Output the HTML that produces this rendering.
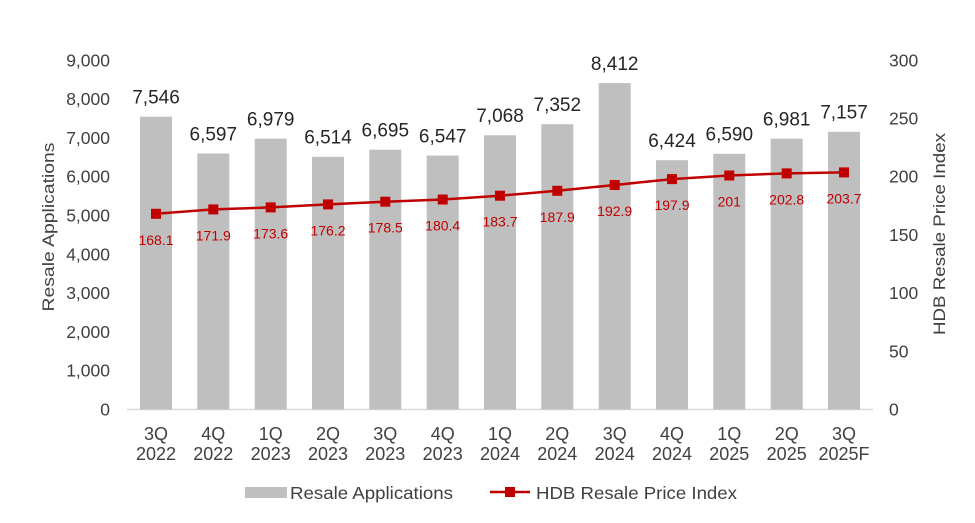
<!DOCTYPE html>
<html><head><meta charset="utf-8"><style>body{margin:0;background:#fff}svg{display:block;font-family:"Liberation Sans",Arial,sans-serif}</style></head><body>
<svg width="975" height="523" xmlns="http://www.w3.org/2000/svg">
<rect width="975" height="523" fill="#fff"/>
<g font-size="17.5" fill="#404040" text-anchor="end">
<text x="110" y="415.5">0</text><text x="110" y="376.7">1,000</text><text x="110" y="337.9">2,000</text><text x="110" y="299.1">3,000</text><text x="110" y="260.3">4,000</text><text x="110" y="221.5">5,000</text><text x="110" y="182.7">6,000</text><text x="110" y="143.9">7,000</text><text x="110" y="105.1">8,000</text><text x="110" y="66.3">9,000</text>
</g>
<g font-size="17.5" fill="#404040">
<text x="889" y="415.5">0</text><text x="889" y="357.3">50</text><text x="889" y="299.1">100</text><text x="889" y="240.9">150</text><text x="889" y="182.7">200</text><text x="889" y="124.5">250</text><text x="889" y="66.3">300</text>
</g>
<line x1="127" y1="409.5" x2="873" y2="409.5" stroke="#d9d9d9" stroke-width="1.5"/>
<g fill="#bfbfbf">
<rect x="140" y="116.7" width="32" height="292.8"/>
<rect x="197.3" y="153.5" width="32" height="256"/>
<rect x="254.7" y="138.7" width="32" height="270.8"/>
<rect x="312" y="156.8" width="32" height="252.7"/>
<rect x="369.3" y="149.7" width="32" height="259.8"/>
<rect x="426.7" y="155.5" width="32" height="254"/>
<rect x="484" y="135.3" width="32" height="274.2"/>
<rect x="541.3" y="124.2" width="32" height="285.3"/>
<rect x="598.7" y="83.1" width="32" height="326.4"/>
<rect x="656" y="160.2" width="32" height="249.3"/>
<rect x="713.3" y="153.8" width="32" height="255.7"/>
<rect x="770.7" y="138.6" width="32" height="270.9"/>
<rect x="828" y="131.8" width="32" height="277.7"/>
</g>
<g font-size="19" fill="#262626" text-anchor="middle">
<text x="156" y="103.5">7,546</text>
<text x="213.3" y="140.3">6,597</text>
<text x="270.7" y="125.5">6,979</text>
<text x="328" y="143.6">6,514</text>
<text x="385.3" y="136.5">6,695</text>
<text x="442.7" y="142.3">6,547</text>
<text x="500" y="122.1">7,068</text>
<text x="557.3" y="111">7,352</text>
<text x="614.7" y="69.9">8,412</text>
<text x="672" y="147">6,424</text>
<text x="729.3" y="140.6">6,590</text>
<text x="786.7" y="125.4">6,981</text>
<text x="844" y="118.6">7,157</text>
</g>
<g font-size="18" fill="#404040" text-anchor="middle">
<text x="156" y="440">3Q</text><text x="156" y="460">2022</text>
<text x="213.3" y="440">4Q</text><text x="213.3" y="460">2022</text>
<text x="270.7" y="440">1Q</text><text x="270.7" y="460">2023</text>
<text x="328" y="440">2Q</text><text x="328" y="460">2023</text>
<text x="385.3" y="440">3Q</text><text x="385.3" y="460">2023</text>
<text x="442.7" y="440">4Q</text><text x="442.7" y="460">2023</text>
<text x="500" y="440">1Q</text><text x="500" y="460">2024</text>
<text x="557.3" y="440">2Q</text><text x="557.3" y="460">2024</text>
<text x="614.7" y="440">3Q</text><text x="614.7" y="460">2024</text>
<text x="672" y="440">4Q</text><text x="672" y="460">2024</text>
<text x="729.3" y="440">1Q</text><text x="729.3" y="460">2025</text>
<text x="786.7" y="440">2Q</text><text x="786.7" y="460">2025</text>
<text x="844" y="440">3Q</text><text x="844" y="460">2025F</text>
</g>
<polyline points="156,213.8 213.3,209.4 270.7,207.4 328,204.4 385.3,201.7 442.7,199.5 500,195.7 557.3,190.8 614.7,185 672,179.1 729.3,175.5 786.7,173.4 844,172.4" fill="none" stroke="#c00000" stroke-width="2.5"/>
<g fill="#c00000">
<rect x="151" y="208.8" width="10" height="10"/>
<rect x="208.3" y="204.4" width="10" height="10"/>
<rect x="265.7" y="202.4" width="10" height="10"/>
<rect x="323" y="199.4" width="10" height="10"/>
<rect x="380.3" y="196.7" width="10" height="10"/>
<rect x="437.7" y="194.5" width="10" height="10"/>
<rect x="495" y="190.7" width="10" height="10"/>
<rect x="552.3" y="185.8" width="10" height="10"/>
<rect x="609.7" y="180" width="10" height="10"/>
<rect x="667" y="174.1" width="10" height="10"/>
<rect x="724.3" y="170.5" width="10" height="10"/>
<rect x="781.7" y="168.4" width="10" height="10"/>
<rect x="839" y="167.4" width="10" height="10"/>
</g>
<g font-size="14" fill="#c00000" text-anchor="middle">
<text x="156" y="244.8">168.1</text>
<text x="213.3" y="240.4">171.9</text>
<text x="270.7" y="238.4">173.6</text>
<text x="328" y="235.4">176.2</text>
<text x="385.3" y="232.7">178.5</text>
<text x="442.7" y="230.5">180.4</text>
<text x="500" y="226.7">183.7</text>
<text x="557.3" y="221.8">187.9</text>
<text x="614.7" y="216">192.9</text>
<text x="672" y="210.1">197.9</text>
<text x="729.3" y="206.5">201</text>
<text x="786.7" y="204.4">202.8</text>
<text x="844" y="203.4">203.7</text>
</g>
<text transform="translate(54,227) rotate(-90)" text-anchor="middle" font-size="17" fill="#404040" textLength="169" lengthAdjust="spacingAndGlyphs">Resale Applications</text>
<text transform="translate(945,234) rotate(-90)" text-anchor="middle" font-size="17" fill="#404040" textLength="202" lengthAdjust="spacingAndGlyphs">HDB Resale Price Index</text>
<rect x="245" y="487" width="42" height="11" fill="#bfbfbf"/><text x="290" y="499" font-size="17.5" fill="#404040" textLength="163" lengthAdjust="spacingAndGlyphs">Resale Applications</text>
<line x1="490" y1="492" x2="530" y2="492" stroke="#c00000" stroke-width="2.5"/><rect x="505" y="487" width="10" height="10" fill="#c00000"/><text x="536" y="499" font-size="17.5" fill="#404040" textLength="201" lengthAdjust="spacingAndGlyphs">HDB Resale Price Index</text>
</svg>
</body></html>
